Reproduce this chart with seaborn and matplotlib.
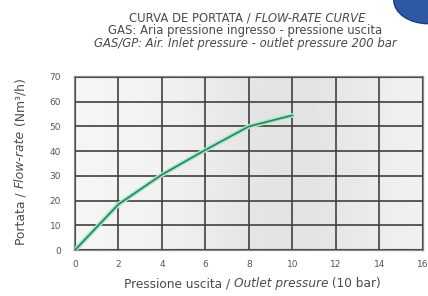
#----------------------------------- import libraries
import numpy as np
import pandas as pd
import matplotlib
matplotlib.use("Agg")
import matplotlib.pyplot as plt
import seaborn as sns
from matplotlib.patches import Ellipse

#----------------------------------- data
pressure = [0, 2, 4, 6, 8, 10]          # outlet pressure (x10 bar)
flow_rate = [0, 18.5, 30.5, 40.5, 50, 54.5]  # Nm3/h
x_ticks = [0, 2, 4, 6, 8, 10, 12, 14, 16]
y_ticks = [0, 10, 20, 30, 40, 50, 60, 70]

df = pd.DataFrame({"pressure": pressure, "flow": flow_rate})

#----------------------------------- figure
sns.set_style("white")
plt.rcParams['font.family'] = ['DejaVu Sans']
fig = plt.figure(figsize=(4.28, 2.96), dpi=100)
ax = fig.add_axes([0.175, 0.155, 0.813, 0.585])

# soft grey gradient behind the grid
grad = np.linspace(0, 1, 200)
shade = 0.96 - 0.07 * np.exp(-((grad - 0.62) / 0.3) ** 2)
ax.imshow(np.tile(shade, (10, 1)), cmap="gray", vmin=0, vmax=1, aspect="auto",
          extent=[0, 16, 0, 70], zorder=0)

# green line with light glow
ax.plot(pressure, flow_rate, color="#aee8cc", lw=3.4, zorder=3, solid_capstyle="round")
sns.lineplot(data=df, x="pressure", y="flow", color="#2a8a5c", lw=1.3, ax=ax, zorder=4)

ax.set_xlim(0, 16)
ax.set_ylim(0, 70)
ax.set_xticks(x_ticks)
ax.set_yticks(y_ticks)
ax.grid(True, color="#404040", lw=1.2, zorder=2)
ax.set_axisbelow(False)
for s in ax.spines.values():
    s.set_color("#8a8a8a")
    s.set_linewidth(1.6)
ax.tick_params(axis="x", length=4, width=1, color="#555555", labelsize=6.5, labelcolor="#555555", pad=3)
ax.tick_params(axis="y", length=0, labelsize=6.5, labelcolor="#555555", pad=10)
ax.set_xlabel("")
ax.set_ylabel("")

#----------------------------------- mixed upright / italic text pieces
def mixed_text(x, y, parts, size=8.5, rotation=0):
    # parts: list of (text, style); centred at (x, y) in figure coords
    fig.canvas.draw()
    r = fig.canvas.get_renderer()
    objs = []
    for txt, st in parts:
        t = fig.text(0, 0, txt, fontsize=size, style=st, color="#4a4a4a",
                     rotation=rotation, va="center", ha="left" if rotation == 0 else "center")
        objs.append(t)
    widths = []
    for t in objs:
        bb = t.get_window_extent(renderer=r)
        widths.append((bb.width if rotation == 0 else bb.height) / (fig.dpi * (4.28 if rotation == 0 else 2.96)))
    total = sum(widths)
    pos = -total / 2
    for t, w in zip(objs, widths):
        if rotation == 0:
            t.set_position((x + pos, y))
        else:
            t.set_position((x, y + pos + w / 2))
        pos += w

mixed_text(0.578, 0.938, [("CURVA DE PORTATA / ", "normal"), ("FLOW-RATE CURVE", "italic")], size=8.4)
mixed_text(0.573, 0.897, [("GAS: Aria pressione ingresso - pressione uscita", "normal")], size=8.4)
mixed_text(0.573, 0.853, [("GAS/GP: Air. Inlet pressure - outlet pressure 200 bar", "italic")], size=8.4)
mixed_text(0.59, 0.042, [("Pressione uscita / ", "normal"), ("Outlet pressure", "italic"), (" (10 bar)", "normal")], size=8.7)
mixed_text(0.048, 0.455, [("Portata / ", "normal"), ("Flow-rate", "italic"), (" (Nm\u00b3/h)", "normal")], size=8.9, rotation=90)

# blue logo corner
fig.patches.append(Ellipse((1.0, 1.0), 0.16, 0.16, transform=fig.transFigure,
                           facecolor="#2c58a4", edgecolor="#1d3f7a", lw=1, zorder=5))

fig.savefig("out.png", dpi=100)
